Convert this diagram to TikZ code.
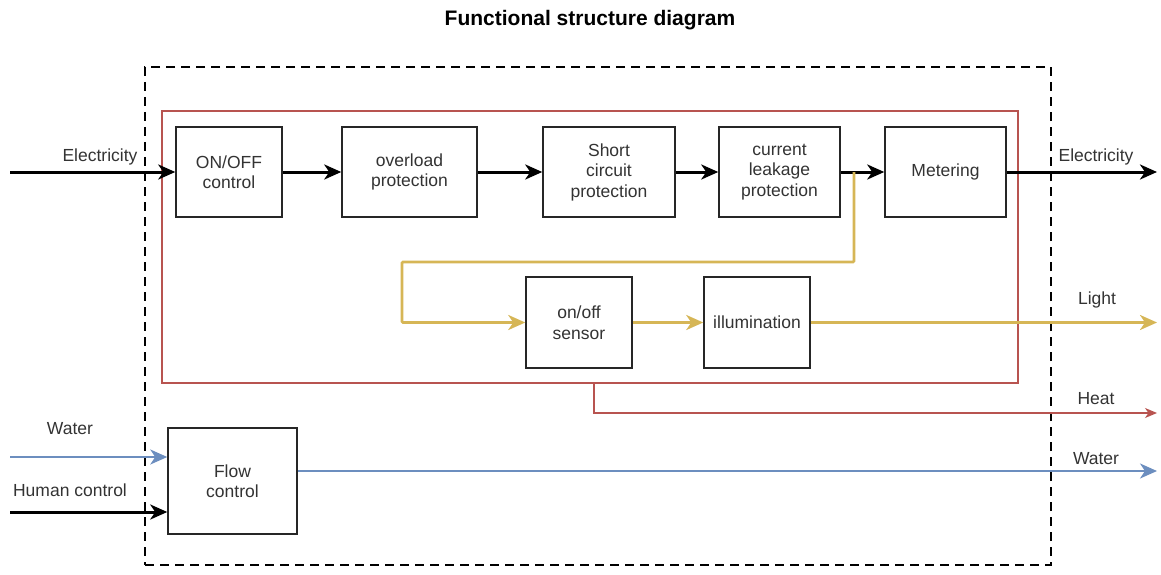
\documentclass[tikz,border=0pt]{standalone}
\usepackage{fontspec}
\setmainfont{Liberation Sans}
\usetikzlibrary{arrows.meta}
\definecolor{txt}{HTML}{333333}
\definecolor{ylw}{HTML}{D6B656}
\definecolor{rd}{HTML}{B85450}
\definecolor{bl}{HTML}{6C8EBF}
\tikzset{
  box/.style={draw=black!85, line width=1.5pt, fill=white, align=center,
    text=txt, font=\fontsize{17.5}{20.5}\selectfont, inner sep=1pt},
  lbl/.style={text=txt, font=\fontsize{17.5}{20.5}\selectfont},
  tip/.style={-{Stealth[length=17pt,width=15pt,inset=5pt]}},
  flowblack/.style={tip, line width=3pt, black},
  flowylw/.style={tip, line width=2.8pt, ylw},
  flowred/.style={-{Stealth[length=12pt,width=10pt,inset=3.5pt]}, line width=1.2pt, rd},
  flowblue/.style={tip, line width=2.3pt, bl},
}
\begin{document}
\begin{tikzpicture}[x=1pt,y=-1pt]
\useasboundingbox (0,0) rectangle (1161,575);
% title
\node[font=\fontsize{21}{24}\selectfont\bfseries] (title) at (590,20) {Functional structure diagram};
% system boundary and electrical subsystem
\node[draw=black, line width=2.8pt, dash pattern=on 9pt off 6pt, minimum width=906pt, minimum height=498pt, inner sep=0pt] (sys) at (598,316) {};
\node[draw=rd, line width=1.1pt, minimum width=856pt, minimum height=272pt, inner sep=0pt] (elec) at (590,247) {};
% function blocks
\node[box, minimum width=106pt, minimum height=90pt] (onoff) at (229,172) {ON/OFF\\control};
\node[box, minimum width=135pt, minimum height=90pt] (over) at (409.5,172) {overload\\protection};
\node[box, minimum width=132pt, minimum height=90pt] (short) at (609,172) {Short\\circuit\\protection};
\node[box, minimum width=121pt, minimum height=90pt] (leak) at (779.5,172) {current\\leakage\\protection};
\node[box, minimum width=121pt, minimum height=90pt] (meter) at (945.5,172) {Metering};
\node[box, minimum width=106pt, minimum height=91pt] (sensor) at (579,322.5) {on/off\\sensor};
\node[box, minimum width=106pt, minimum height=91pt, inner sep=0pt] (illum) at (757,322.5) {illumination};
\node[box, minimum width=129pt, minimum height=106pt] (flow) at (232.5,481) {Flow\\control};
% free ends
\coordinate (elin) at (10,172);
\coordinate (elout) at (1157,172);
\coordinate (tap) at (854,172);
\coordinate (lightout) at (1157,322.5);
\coordinate (heatout) at (1157,413);
\coordinate (win) at (10,457);
\coordinate (hin) at (10,512);
\coordinate (wout) at (1157,471);
% electrical chain
\draw[flowblack] (elin) -- (elin -| onoff.west);
\draw[flowblack] (onoff) -- (over);
\draw[flowblack] (over) -- (short);
\draw[flowblack] (short) -- (leak);
\draw[flowblack] (leak) -- (meter);
\draw[flowblack] (meter) -- (elout);
% lighting branch
\draw[flowylw, rounded corners=1pt] (tap) -- ++(0,90) -| (402,322.5) -- (sensor.west);
\draw[flowylw] (sensor) -- (illum);
\draw[flowylw] (illum) -- (lightout);
% heat
\draw[flowred] (elec.south -| 594,0) |- (heatout);
% water
\draw[flowblue] (win) -- (win -| flow.west);
\draw[flowblack] (hin) -- (hin -| flow.west);
\draw[flowblue] (wout -| flow.east) -- (wout);
% labels
\node[lbl] (l1) at (100,157) {Electricity};
\node[lbl] (l2) at (1096,157) {Electricity};
\node[lbl] (l3) at (1097,300) {Light};
\node[lbl] (l4) at (1096,399) {Heat};
\node[lbl] (l5) at (1096,459) {Water};
\node[lbl] (l6) at (70,429) {Water};
\node[lbl] (l7) at (70,490) {Human control};
\end{tikzpicture}
\end{document}
